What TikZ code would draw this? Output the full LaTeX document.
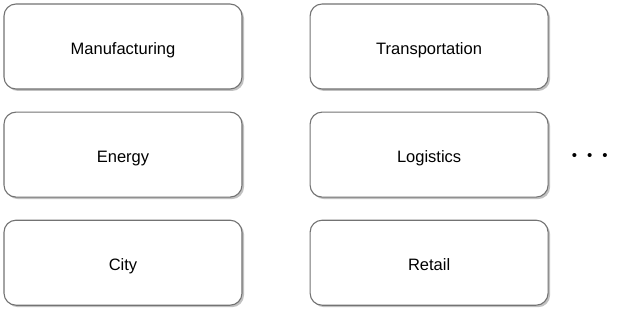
\documentclass[tikz,border=0pt]{standalone}
\usepackage{fontspec}
\setmainfont{Liberation Sans}
\usetikzlibrary{positioning, shadows}

\begin{document}
\begin{tikzpicture}[
		x=1pt, y=1pt,
		sector/.style={draw=black!55, line width=1.1pt, rounded corners=12pt, fill=white,
			minimum width=238pt, minimum height=85pt, font=\fontsize{16.5}{18}\selectfont,
			text height=16pt, text depth=0pt,
			drop shadow={shadow xshift=2pt, shadow yshift=-2pt, fill=black!35, opacity=0.7}}
		]
		\useasboundingbox (0,0) rectangle (625,314);
		
		% left column
		\node[sector] (manufacturing) at (123,267.5) {Manufacturing};
		\node[sector, below=22pt of manufacturing] (energy) {Energy};
		\node[sector, below=22pt of energy] (city) {City};
		
		% right column
		\node[sector, right=67pt of manufacturing] (transportation) {Transportation};
		\node[sector, right=67pt of energy] (logistics) {Logistics};
		\node[sector, right=67pt of city] (retail) {Retail};
		
		% more sectors
		\node[right=21pt of logistics, yshift=-2pt, inner sep=2pt, font=\fontsize{15}{16}\selectfont] (more)
		{\textbullet\hspace{10pt}\textbullet\hspace{10pt}\textbullet};
		
	\end{tikzpicture}
\end{document}
